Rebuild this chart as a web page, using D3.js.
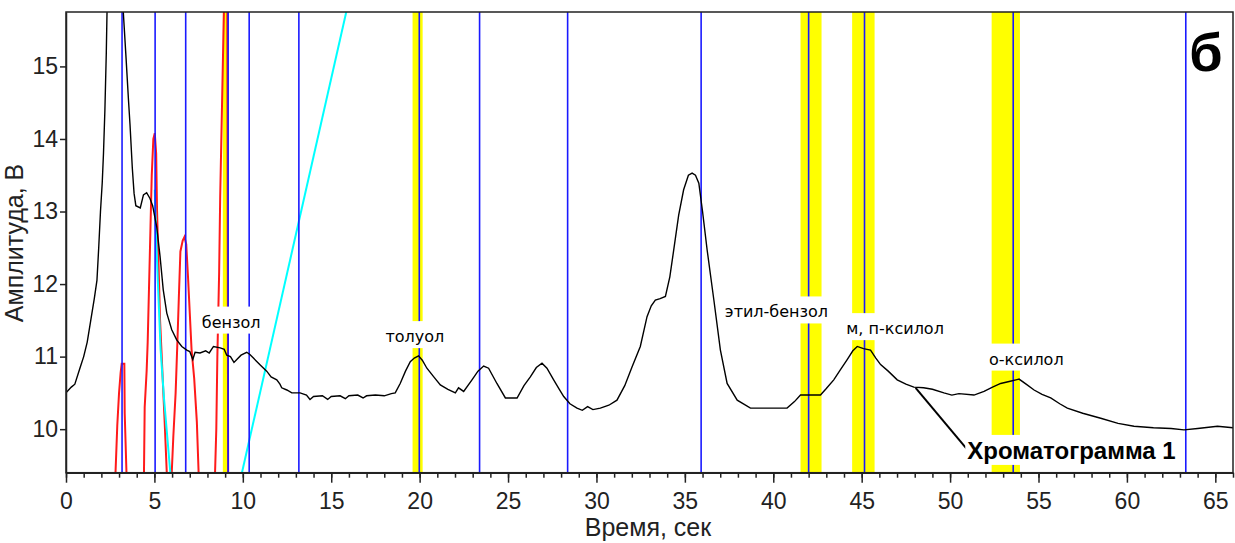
<!DOCTYPE html>
<html>
<head>
<meta charset="utf-8">
<script src="https://cdn.jsdelivr.net/npm/d3@7"></script>
<style>
  body { margin: 0; background: #fff; }
  svg { display: block; }
  .tick text { font-family: "Liberation Sans", Arial, sans-serif; }
</style>
</head>
<body>
<div id="chart"></div>
<script>
// chromatogram 1 (time, s ; amplitude, V)
var chrom = [
  [0, 10.5], [0.3, 10.58], [0.5, 10.62], [0.8, 10.85], [1.0, 11.0], [1.2, 11.2], [1.4, 11.5],
  [1.6, 11.8], [1.75, 12.05], [1.85, 12.5], [1.95, 13.0], [2.05, 13.4], [2.12, 13.8], [2.2, 14.4],
  [2.28, 15.2], [2.32, 15.75], [2.4, 16.3], [3.1, 16.3], [3.24, 15.75], [3.4, 15.1], [3.53, 14.55],
  [3.62, 14.2], [3.75, 13.6], [3.85, 13.25], [3.95, 13.08], [4.2, 13.05], [4.38, 13.23],
  [4.56, 13.26], [4.75, 13.18], [4.9, 13.08], [5.13, 12.79], [5.32, 12.38], [5.5, 11.92],
  [5.7, 11.6], [5.98, 11.37], [6.26, 11.23], [6.55, 11.14], [6.83, 11.09], [7.0, 11.07],
  [7.17, 10.96], [7.3, 11.06], [7.58, 11.05], [7.9, 11.08], [8.1, 11.05], [8.34, 11.14],
  [8.72, 11.12], [8.95, 11.1], [9.09, 11.02], [9.3, 11.0], [9.5, 10.92], [9.66, 10.96],
  [9.9, 11.02], [10.22, 11.06], [10.4, 11.03], [10.6, 10.98], [11.0, 10.88], [11.35, 10.8],
  [11.6, 10.72], [11.92, 10.68], [12.1, 10.62], [12.2, 10.57], [12.49, 10.54], [12.77, 10.5],
  [13.24, 10.5], [13.6, 10.47], [13.8, 10.41], [14.0, 10.45], [14.5, 10.46], [14.8, 10.41],
  [15.0, 10.45], [15.5, 10.46], [15.8, 10.42], [16.0, 10.46], [16.5, 10.47], [16.8, 10.43],
  [17.0, 10.46], [17.5, 10.47], [18.0, 10.46], [18.4, 10.49], [18.62, 10.5], [18.9, 10.63],
  [19.2, 10.8], [19.47, 10.93], [19.7, 10.98], [19.94, 11.01], [20.15, 10.95], [20.41, 10.84],
  [20.8, 10.72], [21.17, 10.61], [21.6, 10.55], [22.02, 10.5], [22.2, 10.57], [22.49, 10.52],
  [22.96, 10.68], [23.3, 10.8], [23.62, 10.87], [23.9, 10.84], [24.37, 10.63], [24.85, 10.43],
  [25.1, 10.43], [25.51, 10.43], [25.9, 10.6], [26.26, 10.72], [26.6, 10.85], [26.92, 10.91],
  [27.2, 10.84], [27.58, 10.68], [27.9, 10.55], [28.15, 10.45], [28.5, 10.35], [28.9, 10.29],
  [29.2, 10.26], [29.5, 10.31], [29.8, 10.27], [30.22, 10.29], [30.7, 10.33], [31.16, 10.4],
  [31.6, 10.6], [32.0, 10.85], [32.48, 11.14], [32.86, 11.55], [33.1, 11.7], [33.33, 11.78],
  [33.6, 11.8], [33.9, 11.83], [34.15, 12.1], [34.37, 12.47], [34.65, 12.95], [34.93, 13.3],
  [35.2, 13.5], [35.41, 13.53], [35.6, 13.5], [35.79, 13.39], [36.0, 13.0], [36.26, 12.47],
  [36.64, 11.78], [37.01, 11.09], [37.39, 10.63], [37.96, 10.4], [38.71, 10.29], [40.78, 10.29],
  [41.2, 10.38], [41.54, 10.47], [42.67, 10.47], [43.0, 10.56], [43.42, 10.68], [43.8, 10.82],
  [44.18, 10.96], [44.5, 11.08], [44.75, 11.14], [45.1, 11.11], [45.5, 11.09], [45.8, 10.98],
  [46.07, 10.89], [46.5, 10.8], [47.01, 10.68], [47.5, 10.62], [47.95, 10.58], [48.5, 10.57],
  [49.0, 10.55], [49.65, 10.5], [50.1, 10.47], [50.5, 10.49], [51.35, 10.47], [51.92, 10.52],
  [52.4, 10.58], [52.86, 10.63], [53.4, 10.66], [53.9, 10.69], [54.3, 10.62], [54.75, 10.54],
  [55.2, 10.48], [55.69, 10.43], [56.2, 10.35], [56.63, 10.29], [57.5, 10.22], [58.52, 10.15],
  [59.5, 10.08], [60.4, 10.04], [61.5, 10.02], [62.5, 10.01], [63.23, 9.99], [64.0, 10.01],
  [65.12, 10.04], [66, 10.02]
];

// calibration peaks (red)
var peak1 = [[2.8, 9.4], [2.9, 10.05], [3.0, 10.5], [3.09, 10.78], [3.15, 10.9], [3.3, 10.9], [3.32, 10.22], [3.42, 9.4]];
var peak2 = [[4.41, 9.4], [4.45, 10.3], [4.56, 10.8], [4.62, 11.2], [4.7, 12.0], [4.78, 12.8], [4.85, 13.5],
  [4.94, 14.0], [5.02, 14.08], [5.1, 13.8], [5.15, 13.0], [5.22, 12.4], [5.32, 11.5], [5.45, 10.8],
  [5.58, 10.1], [5.7, 9.4]];
var peak3 = [[5.98, 9.4], [6.07, 9.9], [6.2, 10.5], [6.3, 11.2], [6.38, 11.8], [6.47, 12.45], [6.6, 12.6],
  [6.7, 12.65], [6.8, 12.55], [6.9, 12.1], [7.0, 11.6], [7.1, 11.1], [7.25, 10.7], [7.4, 10.1], [7.5, 9.4]];
var peak4 = [[8.43, 9.4], [8.5, 10.0], [8.56, 11.0], [8.66, 12.15], [8.72, 13.2], [8.81, 14.3], [8.9, 15.4],
  [8.97, 16.2], [9.12, 16.2], [9.17, 9.4]];
var redPeaks = [peak1, peak2, peak3, peak4];

// cyan lines
var cyanLines = [
  [[5.02, 13.3], [5.1, 12.6], [5.2, 12.0], [5.35, 11.1], [5.55, 10.4], [5.9, 9.4]],
  [[9.95, 9.4], [15.85, 15.75]]
];

// retention time markers
var markerTimes = [3.17, 5.04, 6.77, 9.17, 10.36, 13.17, 19.98, 23.39, 28.37, 35.92, 42.0, 45.16, 53.57, 63.33];
var windowStart = [8.87, 19.6, 41.54, 44.46, 52.35];
var windowEnd = [9.12, 20.17, 42.73, 45.73, 53.95];

var compounds = ["бензол", "толуол", "этил-бензол", "м, п-ксилол", "о-ксилол"];
var compoundX = [9.34, 19.73, 40.18, 46.89, 54.31];
var compoundY = [11.4, 11.2, 11.54, 11.31, 10.89];

var xMajorTicks = [0, 5, 10, 15, 20, 25, 30, 35, 40, 45, 50, 55, 60, 65];
var yTicks = [10, 11, 12, 13, 14, 15];

var svgWidth = 1235;
var svgHeight = 543;
var margin = { top: 12, right: 2, bottom: 70, left: 66 };
var width = svgWidth - margin.left - margin.right;
var height = 460.7;

var svg = d3.select("#chart").append("svg")
  .attr("width", svgWidth)
  .attr("height", svgHeight);

var g = svg.append("g")
  .attr("transform", `translate(${margin.left}, ${margin.top})`);

var x = d3.scaleLinear().domain([0, 66]).range([0, width]);
var y = d3.scaleLinear().domain([9.4, 15.75]).range([height, 0]);

g.append("clipPath").attr("id", "clip")
  .append("rect").attr("width", width).attr("height", height);

var plot = g.append("g").attr("clip-path", "url(#clip)");

var line = d3.line().x(d => x(d[0])).y(d => y(d[1]));

// yellow integration windows
plot.selectAll(".win")
  .data(windowStart)
  .enter().append("rect")
  .attr("x", d => x(d))
  .attr("width", (d, i) => x(windowEnd[i]) - x(d))
  .attr("y", 0)
  .attr("height", height)
  .attr("fill", "#ffff00");

// red peaks
plot.selectAll(".peak")
  .data(redPeaks)
  .enter().append("path")
  .attr("d", line)
  .attr("fill", "none")
  .attr("stroke", "#ff1a1a")
  .attr("stroke-width", 2);

// cyan lines
plot.selectAll(".cyan")
  .data(cyanLines)
  .enter().append("path")
  .attr("d", line)
  .attr("fill", "none")
  .attr("stroke", "#00ffff")
  .attr("stroke-width", 2);

// blue markers
plot.selectAll(".marker")
  .data(markerTimes)
  .enter().append("line")
  .attr("x1", d => x(d)).attr("x2", d => x(d))
  .attr("y1", 0).attr("y2", height)
  .attr("stroke", "#1a1aff")
  .attr("stroke-width", 1.6);

// chromatogram
plot.append("path")
  .datum(chrom)
  .attr("d", line)
  .attr("fill", "none")
  .attr("stroke", "#000")
  .attr("stroke-width", 1.4);

// compound labels with white background
compounds.forEach(function(name, i) {
  var lg = g.append("g");
  var t = lg.append("text")
    .attr("x", x(compoundX[i]))
    .attr("y", y(compoundY[i]))
    .attr("text-anchor", "middle")
    .style("font-family", "'DejaVu Sans', sans-serif")
    .style("font-size", "16px")
    .style("fill", "#000")
    .text(name);
  var b = t.node().getBBox();
  lg.insert("rect", "text")
    .attr("x", b.x - 3).attr("y", b.y - 6)
    .attr("width", b.width + 6).attr("height", b.height + 8)
    .attr("fill", "#fff");
});

// annotation
g.append("line")
  .attr("x1", x(48.05)).attr("y1", y(10.57))
  .attr("x2", x(51.0)).attr("y2", y(9.71))
  .attr("stroke", "#000")
  .attr("stroke-width", 2);

var ag = g.append("g");
var at = ag.append("text")
  .attr("x", x(50.97))
  .attr("y", y(9.59))
  .style("font-family", "'Liberation Sans', Arial, sans-serif")
  .style("font-size", "24px")
  .style("font-weight", "bold")
  .text("Хроматограмма 1");
var ab = at.node().getBBox();
ag.insert("rect", "text")
  .attr("x", ab.x - 2).attr("y", ab.y - 2)
  .attr("width", ab.width + 4).attr("height", ab.height + 3)
  .attr("fill", "#fff");

// frame
g.append("rect")
  .attr("width", width).attr("height", height)
  .attr("fill", "none")
  .attr("stroke", "#222")
  .attr("stroke-width", 1.5);

// axes
g.append("g")
  .attr("transform", `translate(0, ${height})`)
  .call(d3.axisBottom(x).tickValues(d3.range(0, 67, 1)).tickSize(5).tickSizeOuter(0).tickFormat(""))
  .call(a => a.select(".domain").remove());

var xAxis = g.append("g")
  .attr("transform", `translate(0, ${height})`)
  .call(d3.axisBottom(x).tickValues(xMajorTicks).tickSize(10).tickSizeOuter(0).tickPadding(10));
xAxis.selectAll("text").style("font-size", "23px").style("fill", "#222");

var yAxis = g.append("g")
  .call(d3.axisLeft(y).tickValues(yTicks).tickSize(6).tickSizeOuter(0).tickPadding(2).tickFormat(d3.format("d")));
yAxis.selectAll("text").style("font-size", "23px").style("fill", "#222");

svg.selectAll(".domain, .tick line").attr("stroke", "#222").attr("stroke-width", 1.5);

// axis titles
svg.append("text")
  .attr("x", 648)
  .attr("y", 536)
  .attr("text-anchor", "middle")
  .style("font-family", "'Liberation Sans', Arial, sans-serif")
  .style("font-size", "25px")
  .style("fill", "#222")
  .text("Время, сек");

svg.append("text")
  .attr("transform", "translate(23, 243) rotate(-90)")
  .attr("text-anchor", "middle")
  .style("font-family", "'Liberation Sans', Arial, sans-serif")
  .style("font-size", "25px")
  .style("fill", "#222")
  .text("Амплитуда, В");

// panel letter
svg.append("text")
  .attr("x", 1206)
  .attr("y", 71)
  .attr("text-anchor", "middle")
  .style("font-family", "'Liberation Sans', Arial, sans-serif")
  .style("font-size", "54px")
  .style("font-weight", "bold")
  .text("б");
</script>
</body>
</html>
